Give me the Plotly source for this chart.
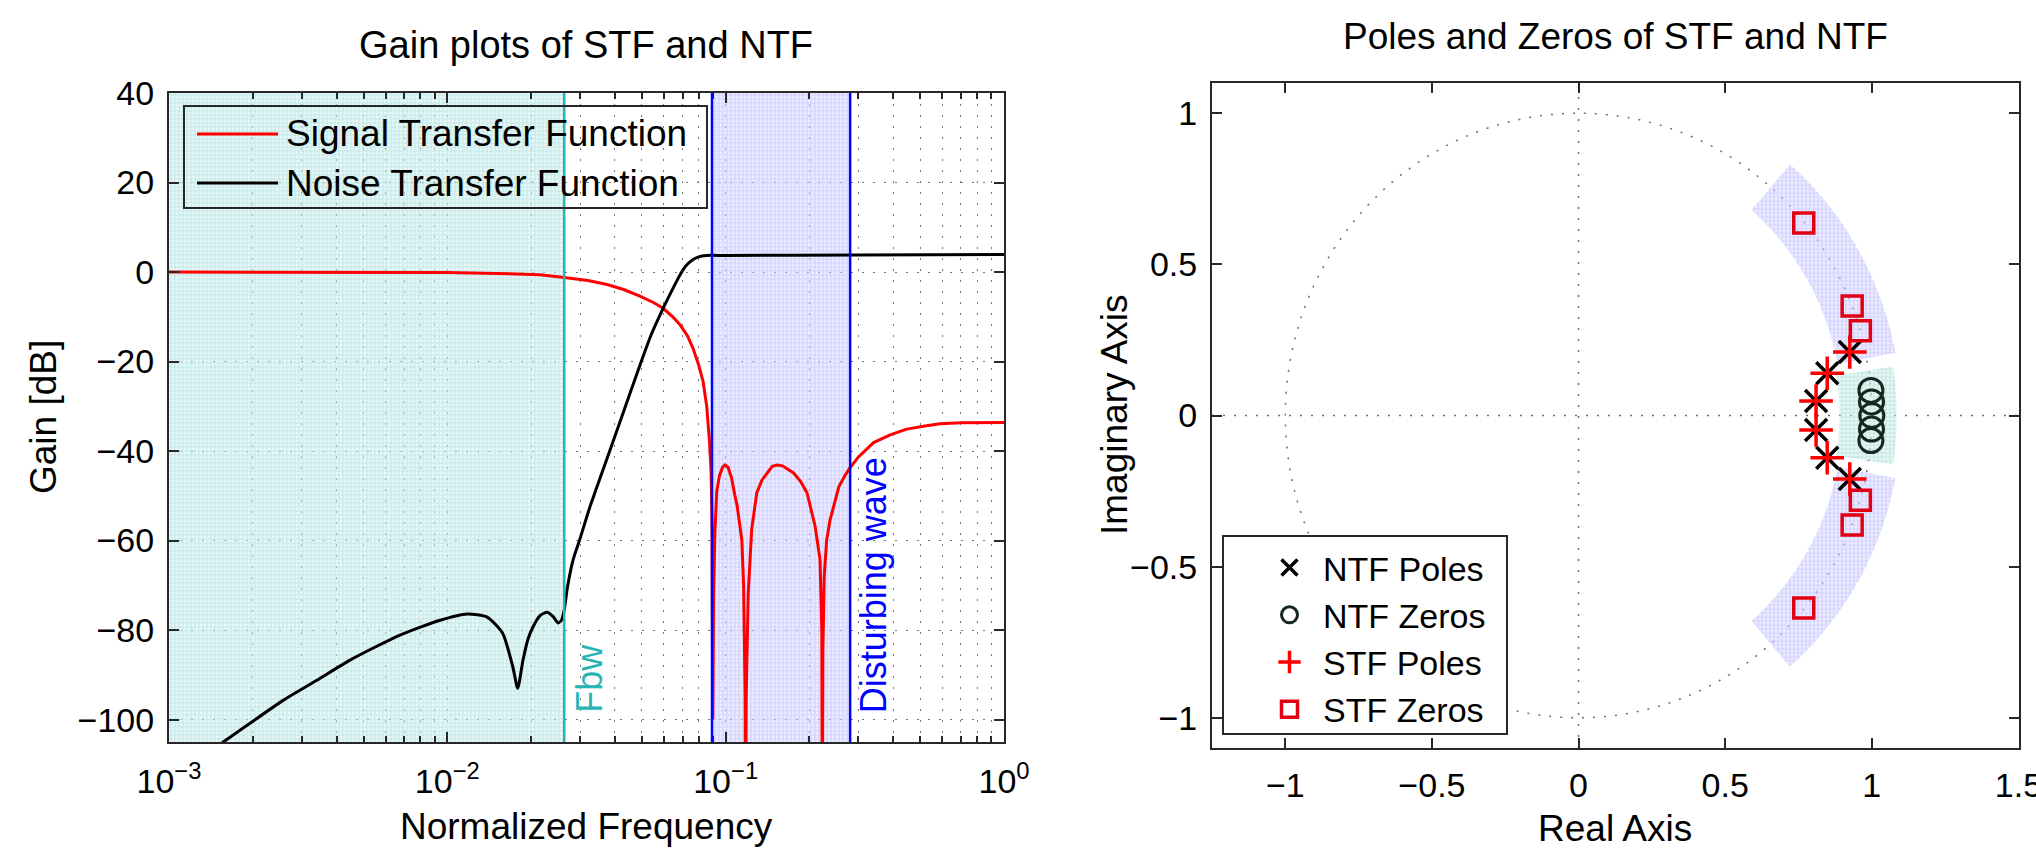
import numpy as np
import plotly.graph_objects as go

W, H = 2036, 855
FONT = "Liberation Sans"

# ---------------- data: gain plot ----------------
STF_FREQ = [0.001, 0.003, 0.006, 0.01, 0.015, 0.0215, 0.0263, 0.032, 0.0375, 0.043,
            0.0492, 0.055, 0.0596, 0.065, 0.0686, 0.073, 0.0764, 0.080, 0.083, 0.0855,
            0.0875, 0.0887, 0.0893, 0.0897, 0.0899, 0.0905, 0.0915, 0.0929, 0.095, 0.0975,
            0.0995, 0.102, 0.105, 0.108, 0.110, 0.1143, 0.116, 0.1175, 0.118, 0.1185,
            0.1205, 0.124, 0.1294, 0.135, 0.1406, 0.147, 0.153, 0.160, 0.1754, 0.186,
            0.196, 0.2096, 0.2183, 0.2215, 0.2225, 0.2235, 0.226, 0.2305, 0.237, 0.244,
            0.255, 0.268, 0.280, 0.30, 0.34, 0.39, 0.447, 0.52, 0.589, 0.70, 0.85, 1.0]
STF_GAIN = [0.0, 0.0, -0.05, -0.1, -0.3, -0.6, -1.2, -1.9, -2.8, -3.9,
            -5.4, -6.8, -8.1, -10.2, -11.8, -14.3, -17.1, -20.8, -24.5, -30.0,
            -38.0, -45.0, -56.0, -75.0, -100.0, -72.0, -58.0, -49.0, -45.5, -43.6,
            -43.1, -43.6, -46.0, -50.0, -52.3, -59.8, -70.0, -95.0, -130.0, -95.0,
            -72.0, -57.5, -49.3, -46.5, -44.9, -43.4, -43.1, -43.3, -44.9, -46.8,
            -49.3, -56.8, -64.3, -80.0, -130.0, -85.0, -68.0, -60.0, -55.5, -52.3,
            -48.0, -45.5, -43.7, -41.3, -38.1, -36.4, -35.1, -34.4, -33.9, -33.7, -33.6, -33.6]

NTF_FREQ = [0.001, 0.00155, 0.00257, 0.0034, 0.00447, 0.00676, 0.00942, 0.01178, 0.0139,
            0.0158, 0.0172, 0.0179, 0.0187, 0.0195, 0.0203, 0.0215, 0.0228, 0.0240, 0.0250,
            0.0257, 0.0263, 0.0270, 0.0283, 0.0300, 0.0326, 0.0374, 0.0429, 0.0492, 0.054,
            0.0596, 0.064, 0.0686, 0.072, 0.0764, 0.080, 0.0852, 0.1, 0.3, 1.0]
NTF_GAIN = [-113.2, -105.2, -95.7, -91.2, -86.7, -81.1, -77.8, -76.4, -77.1,
            -80.7, -88.3, -93.0, -86.7, -82.0, -79.3, -76.8, -76.0, -77.0, -78.4,
            -77.8, -75.5, -70.5, -64.3, -59.5, -52.3, -41.8, -31.3, -20.8, -14.0,
            -8.1, -4.2, -0.6, 1.4, 2.8, 3.4, 3.7, 3.7, 3.8, 3.9]

FREQ_RANGE = [0.001, 1.0]
GAIN_RANGE = [-105, 40]
FBW = 0.0263
BAND_LO, BAND_HI = 0.0893, 0.280
X1_TICKS = [0.001, 0.01, 0.1, 1.0]
X1_LABELS = ["10<sup>\u22123</sup>", "10<sup>\u22122</sup>", "10<sup>\u22121</sup>", "10<sup>0</sup>"]
Y1_TICKS = [-100, -80, -60, -40, -20, 0, 20, 40]

# ---------------- data: pole-zero plot ----------------
NTF_POLES_RE = [0.925, 0.848, 0.810, 0.810, 0.848, 0.925]
NTF_POLES_IM = [0.210, 0.140, 0.048, -0.048, -0.140, -0.210]
STF_POLES_RE = NTF_POLES_RE
STF_POLES_IM = NTF_POLES_IM
NTF_ZEROS_RE = [0.997, 0.999, 1.000, 0.999, 0.997]
NTF_ZEROS_IM = [0.083, 0.045, 0.000, -0.045, -0.083]
STF_ZEROS_RE = [0.768, 0.933, 0.961, 0.961, 0.933, 0.768]
STF_ZEROS_IM = [0.637, 0.362, 0.280, -0.280, -0.362, -0.637]

RE_RANGE = [-1.25, 1.502]
IM_RANGE = [-1.1, 1.1]
X2_TICKS = [-1, -0.5, 0, 0.5, 1, 1.5]
Y2_TICKS = [-1, -0.5, 0, 0.5, 1]
CYAN_SECTOR = dict(r_in=0.89, r_out=1.085, th_lo=-0.15, th_hi=0.15)
BLUE_SECTOR = dict(r_in=0.90, r_out=1.10, th_lo=0.19, th_hi=0.856)

TEAL = "rgb(40,180,180)"
DOT = "2px,9px"


def px(x):
    return x / W


def py(y):
    return 1 - y / H


def sector(r_in, r_out, th_lo, th_hi, sign=1):
    th = np.linspace(th_lo, th_hi, 60)
    xs = np.concatenate([r_out * np.cos(th), r_in * np.cos(th[::-1]), [r_out * np.cos(th[0])]])
    ys = np.concatenate([r_out * np.sin(th), r_in * np.sin(th[::-1]), [r_out * np.sin(th[0])]])
    return xs, sign * ys


CYAN_PAT = dict(shape="+", fgcolor="rgb(160,218,218)", bgcolor="rgba(205,238,238,0.45)", size=4, solidity=0.5)
BLUE_PAT = dict(shape="+", fgcolor="rgb(180,180,255)", bgcolor="rgba(215,215,255,0.45)", size=4, solidity=0.5)

fig = go.Figure()

# shaded regions (left)
fig.add_trace(go.Scatter(
    x=[FREQ_RANGE[0], FBW, FBW, FREQ_RANGE[0], FREQ_RANGE[0]],
    y=[GAIN_RANGE[0], GAIN_RANGE[0], GAIN_RANGE[1], GAIN_RANGE[1], GAIN_RANGE[0]],
    fill="toself", mode="none", fillcolor="rgba(0,0,0,0)", fillpattern=CYAN_PAT,
    showlegend=False, hoverinfo="skip", xaxis="x", yaxis="y"))
fig.add_trace(go.Scatter(
    x=[BAND_LO, BAND_HI, BAND_HI, BAND_LO, BAND_LO],
    y=[GAIN_RANGE[0], GAIN_RANGE[0], GAIN_RANGE[1], GAIN_RANGE[1], GAIN_RANGE[0]],
    fill="toself", mode="none", fillcolor="rgba(0,0,0,0)", fillpattern=BLUE_PAT,
    showlegend=False, hoverinfo="skip", xaxis="x", yaxis="y"))

# curves
fig.add_trace(go.Scatter(x=STF_FREQ, y=STF_GAIN, mode="lines",
                         line=dict(color="rgb(255,0,0)", width=3),
                         showlegend=False, xaxis="x", yaxis="y"))
fig.add_trace(go.Scatter(x=NTF_FREQ, y=NTF_GAIN, mode="lines",
                         line=dict(color="black", width=3, shape="spline", smoothing=0.6),
                         showlegend=False, xaxis="x", yaxis="y"))

# sectors (right)
xs, ys = sector(**CYAN_SECTOR)
fig.add_trace(go.Scatter(x=xs, y=ys, fill="toself", mode="none", fillcolor="rgba(0,0,0,0)",
                         fillpattern=dict(CYAN_PAT, fgcolor="rgb(160,215,205)"),
                         showlegend=False, hoverinfo="skip", xaxis="x2", yaxis="y2"))
for sgn in (1, -1):
    xs, ys = sector(**BLUE_SECTOR, sign=sgn)
    fig.add_trace(go.Scatter(x=xs, y=ys, fill="toself", mode="none", fillcolor="rgba(0,0,0,0)",
                             fillpattern=BLUE_PAT,
                             showlegend=False, hoverinfo="skip", xaxis="x2", yaxis="y2"))

# poles / zeros
fig.add_trace(go.Scatter(x=NTF_POLES_RE, y=NTF_POLES_IM, mode="markers", name="NTF Poles",
                         marker=dict(symbol="x-thin", size=22, line=dict(color="black", width=3.5)),
                         xaxis="x2", yaxis="y2"))
fig.add_trace(go.Scatter(x=NTF_ZEROS_RE, y=NTF_ZEROS_IM, mode="markers", name="NTF Zeros",
                         marker=dict(symbol="circle-open", size=24, color="rgb(20,40,30)",
                                     line=dict(color="rgb(20,40,30)", width=3)),
                         xaxis="x2", yaxis="y2"))
fig.add_trace(go.Scatter(x=STF_POLES_RE, y=STF_POLES_IM, mode="markers", name="STF Poles",
                         marker=dict(symbol="cross-thin", size=24, line=dict(color="rgb(255,0,0)", width=3.5)),
                         xaxis="x2", yaxis="y2"))
fig.add_trace(go.Scatter(x=STF_ZEROS_RE, y=STF_ZEROS_IM, mode="markers", name="STF Zeros",
                         marker=dict(symbol="square-open", size=20, color="rgb(225,0,20)",
                                     line=dict(color="rgb(225,0,20)", width=3.5)),
                         xaxis="x2", yaxis="y2"))

axis_common = dict(showline=True, linecolor="rgb(40,40,40)", linewidth=2, mirror="allticks",
                   ticks="inside", ticklen=10, tickwidth=1.5, tickcolor="rgb(40,40,40)",
                   zeroline=False, automargin=False, ticklabeloverflow="allow",
                   tickfont=dict(family=FONT, size=34, color="black"))

shapes = []
annotations = []

# vertical marker lines (left)
shapes.append(dict(type="line", xref="x", yref="y domain", x0=FBW, x1=FBW, y0=0, y1=1,
                   line=dict(color=TEAL, width=2.5)))
for f in (BAND_LO, BAND_HI):
    shapes.append(dict(type="line", xref="x", yref="y domain", x0=f, x1=f, y0=0, y1=1,
                       line=dict(color="rgb(0,0,255)", width=2.5)))

# right: unit circle and axes lines (dotted)
shapes.append(dict(type="circle", xref="x2", yref="y2", x0=-1, x1=1, y0=-1, y1=1,
                   line=dict(color="rgb(110,110,110)", width=1.5, dash=DOT), layer="below"))
shapes.append(dict(type="line", xref="x2", yref="y2 domain", x0=0, x1=0, y0=0, y1=1,
                   line=dict(color="rgb(110,110,110)", width=1.5, dash=DOT), layer="below"))
shapes.append(dict(type="line", xref="x2 domain", yref="y2", x0=0, x1=1, y0=0, y1=0,
                   line=dict(color="rgb(110,110,110)", width=1.5, dash=DOT), layer="below"))

# manual legend box (left)
shapes.append(dict(type="rect", xref="paper", yref="paper", x0=px(184), x1=px(707), y0=py(106), y1=py(208),
                   line=dict(color="rgb(40,40,40)", width=2)))
shapes.append(dict(type="line", xref="paper", yref="paper", x0=px(197), x1=px(278), y0=py(134), y1=py(134),
                   line=dict(color="rgb(255,0,0)", width=3)))
shapes.append(dict(type="line", xref="paper", yref="paper", x0=px(197), x1=px(278), y0=py(183), y1=py(183),
                   line=dict(color="black", width=3)))
annotations.append(dict(text="Signal Transfer Function", xref="paper", yref="paper", x=px(284), y=py(134),
                        xanchor="left", yanchor="middle", showarrow=False,
                        font=dict(family=FONT, size=37, color="black")))
annotations.append(dict(text="Noise Transfer Function", xref="paper", yref="paper", x=px(284), y=py(183),
                        xanchor="left", yanchor="middle", showarrow=False,
                        font=dict(family=FONT, size=37, color="black")))

# legend box (right) drawn as a frame; legend entries come from the traces
shapes.append(dict(type="rect", xref="paper", yref="paper", x0=px(1223), x1=px(1507), y0=py(536), y1=py(734),
                   fillcolor="white", line=dict(color="rgb(40,40,40)", width=2), layer="above"))

# titles and axis labels
annotations.append(dict(text="Gain plots of STF and NTF", xref="paper", yref="paper", x=px(586), y=py(45),
                        xanchor="center", yanchor="middle", showarrow=False,
                        font=dict(family=FONT, size=38, color="black")))
annotations.append(dict(text="Poles and Zeros of STF and NTF", xref="paper", yref="paper", x=px(1615), y=py(36),
                        xanchor="center", yanchor="middle", showarrow=False,
                        font=dict(family=FONT, size=37, color="black")))
annotations.append(dict(text="Normalized Frequency", xref="paper", yref="paper", x=px(586), y=py(826),
                        xanchor="center", yanchor="middle", showarrow=False,
                        font=dict(family=FONT, size=37, color="black")))
annotations.append(dict(text="Gain [dB]", xref="paper", yref="paper", x=px(44), y=py(417),
                        xanchor="center", yanchor="middle", showarrow=False, textangle=-90,
                        font=dict(family=FONT, size=37, color="black")))
annotations.append(dict(text="Real Axis", xref="paper", yref="paper", x=px(1615), y=py(828),
                        xanchor="center", yanchor="middle", showarrow=False,
                        font=dict(family=FONT, size=37, color="black")))
annotations.append(dict(text="Imaginary Axis", xref="paper", yref="paper", x=px(1114), y=py(415),
                        xanchor="center", yanchor="middle", showarrow=False, textangle=-90,
                        font=dict(family=FONT, size=37, color="black")))

# in-plot labels
annotations.append(dict(text="Fbw", xref="x", yref="y", x=np.log10(FBW), y=-99, xshift=25,
                        xanchor="center", yanchor="bottom", showarrow=False, textangle=-90,
                        font=dict(family=FONT, size=36, color=TEAL)))
annotations.append(dict(text="Disturbing wave", xref="x", yref="y", x=np.log10(BAND_HI), y=-99, xshift=23,
                        xanchor="center", yanchor="bottom", showarrow=False, textangle=-90,
                        font=dict(family=FONT, size=36, color="rgb(0,0,255)")))

fig.update_layout(
    width=W, height=H, margin=dict(l=0, r=0, t=0, b=0, autoexpand=False),
    paper_bgcolor="white", plot_bgcolor="white",
    font=dict(family=FONT, size=34, color="black"),
    xaxis=dict(type="log", range=[np.log10(FREQ_RANGE[0]), np.log10(FREQ_RANGE[1])],
               domain=[px(169), px(1004)], anchor="y",
               tickvals=X1_TICKS, ticktext=X1_LABELS, ticklabelstandoff=8,
               showgrid=True, gridcolor="rgb(120,120,120)", griddash=DOT, gridwidth=1,
               minor=dict(dtick="D1", ticks="inside", ticklen=6, tickcolor="rgb(40,40,40)",
                          showgrid=True, gridcolor="rgb(120,120,120)", griddash=DOT, gridwidth=1),
               **axis_common),
    yaxis=dict(range=GAIN_RANGE, domain=[py(742), py(93)], anchor="x",
               tickvals=Y1_TICKS, ticklabelstandoff=6,
               showgrid=True, gridcolor="rgb(120,120,120)", griddash=DOT, gridwidth=1,
               **axis_common),
    xaxis2=dict(range=RE_RANGE, domain=[px(1212), px(2019)], anchor="y2",
                tickvals=X2_TICKS, ticklabelstandoff=6, showgrid=False, **axis_common),
    yaxis2=dict(range=IM_RANGE, domain=[py(748), py(83)], anchor="x2",
                tickvals=Y2_TICKS, ticklabelstandoff=6, showgrid=False, **axis_common),
    legend=dict(x=px(1256), y=py(539), xanchor="left", yanchor="top",
                bgcolor="rgba(0,0,0,0)", borderwidth=0,
                font=dict(family=FONT, size=34, color="black"), itemwidth=57),
    shapes=shapes, annotations=annotations,
)

fig.write_html("out.html", config={"displayModeBar": False},
               post_script="document.body.style.margin='0';")
